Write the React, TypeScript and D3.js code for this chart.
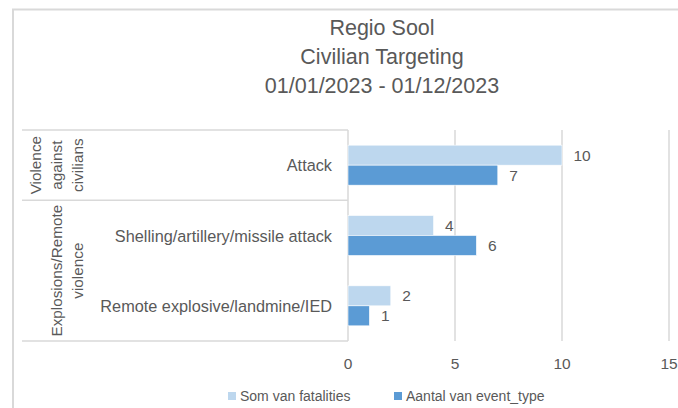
import React from "react";
import * as d3 from "d3";

const title = ["Regio Sool", "Civilian Targeting", "01/01/2023 - 01/12/2023"];
const categories = ["Attack", "Shelling/artillery/missile attack", "Remote explosive/landmine/IED"];
const groupLabels = [["Violence", "against", "civilians"], ["Explosions/Remote", "violence"]];
const groupSpans = [[0, 1], [1, 3]];
const seriesNames = ["Som van fatalities", "Aantal van event_type"];
const fatalities = [10, 4, 2];
const eventCounts = [7, 6, 1];
const xTicks = [0, 5, 10, 15];

const W = 678;
const H = 408;
const FONT = "'Liberation Sans', Arial, sans-serif";
const TEXT = "#595959";
const GRID = "#d9d9d9";
const COLORS = ["#bdd7ee", "#5b9bd5"];

export default function App() {
  const x = d3.scaleLinear().domain([0, 15]).range([348, 669]);
  const y = d3.scaleBand<string>().domain(categories).range([130, 341]).padding(0);
  const sub = d3
    .scaleBand<string>()
    .domain(seriesNames)
    .range([y.bandwidth() / 2 - 20, y.bandwidth() / 2 + 20]);
  const series = [fatalities, eventCounts];
  const tableLeft = 22;

  return (
    <div style={{ position: "fixed", left: 0, top: 0 }}>
      <svg width={W} height={H} style={{ display: "block", background: "#fff" }}>
        {/* chart border (cropped) */}
        <rect x={13} y={9.5} width={W + 20} height={H + 20} fill="none" stroke={GRID} strokeWidth={2} />
        {/* title */}
        {title.map((t, i) => (
          <text key={i} x={382} y={35 + i * 29} textAnchor="middle" fontFamily={FONT} fontSize={21.5} fill={TEXT}>
            {t}
          </text>
        ))}
        {/* gridlines */}
        {xTicks.map((t) => (
          <line key={t} x1={x(t)} x2={x(t)} y1={130} y2={341} stroke={GRID} strokeWidth={1.5} />
        ))}
        {/* table lines */}
        {[130, 341].map((yy) => (
          <line key={yy} x1={tableLeft} x2={348} y1={yy} y2={yy} stroke={GRID} strokeWidth={1.5} />
        ))}
        {groupSpans.slice(1).map((s, i) => (
          <line key={i} x1={tableLeft} x2={348} y1={y(categories[s[0]])!} y2={y(categories[s[0]])!} stroke={GRID} strokeWidth={1.5} />
        ))}
        {/* bars */}
        {series.map((vals, si) =>
          vals.map((v, ci) => {
            const yy = y(categories[ci])! + sub(seriesNames[si])!;
            return (
              <g key={`${si}-${ci}`}>
                <rect x={x(0)} y={yy} width={x(v) - x(0)} height={sub.bandwidth()} fill={COLORS[si]} stroke="#fff" strokeWidth={0.6} />
                <text x={x(v) + 11.5} y={yy + sub.bandwidth() / 2} dominantBaseline="central" fontFamily={FONT} fontSize={15.5} fill={TEXT}>
                  {v}
                </text>
              </g>
            );
          })
        )}
        {/* category labels */}
        {categories.map((c) => (
          <text key={c} x={332} y={y(c)! + y.bandwidth() / 2} textAnchor="end" dominantBaseline="central" fontFamily={FONT} fontSize={16.3} fill={TEXT}>
            {c}
          </text>
        ))}
        {/* group labels */}
        {groupLabels.map((lines, gi) => {
          const s = groupSpans[gi];
          const cy = (y(categories[s[0]])! + y(categories[s[1] - 1])! + y.bandwidth()) / 2;
          return lines.map((ln, li) => {
            const bx = 82.5 - (lines.length - 1 - li) * 21;
            return (
              <text key={`${gi}-${li}`} transform={`translate(${bx},${cy}) rotate(-90)`} textAnchor="middle" fontFamily={FONT} fontSize={15.3} fill={TEXT}>
                {ln}
              </text>
            );
          });
        })}
        {/* x tick labels */}
        {xTicks.map((t) => (
          <text key={t} x={x(t)} y={363} textAnchor="middle" dominantBaseline="central" fontFamily={FONT} fontSize={15.5} fill={TEXT}>
            {t}
          </text>
        ))}
        {/* legend */}
        {seriesNames.map((n, i) => {
          const lx = [228, 394][i];
          return (
            <g key={n}>
              <rect x={lx} y={392} width={8} height={8} fill={COLORS[i]} />
              <text x={lx + 12} y={396} dominantBaseline="central" fontFamily={FONT} fontSize={14} fill={TEXT}>
                {n}
              </text>
            </g>
          );
        })}
      </svg>
    </div>
  );
}
